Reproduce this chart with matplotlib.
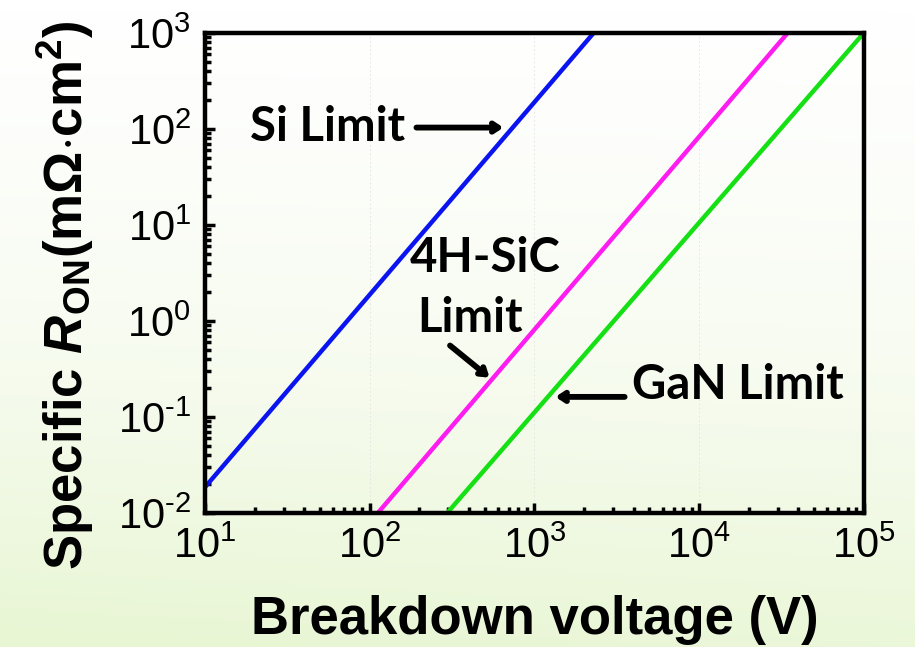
import numpy as np
import matplotlib
matplotlib.use("Agg")
import matplotlib.pyplot as plt
from matplotlib.ticker import FuncFormatter, LogLocator, NullFormatter
from matplotlib.colors import LinearSegmentedColormap

# ---- data ----
si_v = [10, 2290]
si_r = [0.0186, 1000]
sic_v = [112, 34500]
sic_r = [0.01, 1000]
gan_v = [295, 100000]
gan_r = [0.01, 1000]

x_ticks = [1e1, 1e2, 1e3, 1e4, 1e5]
y_ticks = [1e-2, 1e-1, 1e0, 1e1, 1e2, 1e3]

plt.rcParams['mathtext.fontset'] = 'custom'
plt.rcParams['mathtext.rm'] = 'Liberation Sans'
plt.rcParams['mathtext.it'] = 'Liberation Sans:italic'
plt.rcParams['mathtext.bf'] = 'Liberation Sans:bold'
plt.rcParams['mathtext.bfit'] = 'Liberation Sans:italic:bold'
plt.rcParams['font.family'] = ['Liberation Sans', 'DejaVu Sans']

fig = plt.figure(figsize=(9.15, 6.47), dpi=100)

# background gradient (white at top, light green at bottom)
bg = fig.add_axes([0, 0, 1, 1], zorder=-10)
yy, xx = np.mgrid[0:1:200j, 0:1:200j]   # yy = 0 at top row
t = np.clip(yy ** 1.3 * 0.9 + 0.1 * yy * (1 - xx), 0, 1)
cmap = LinearSegmentedColormap.from_list('g', ['#ffffff', '#f6fbee', '#e8f6d3'])
bg.imshow(t, cmap=cmap, aspect='auto', extent=[0, 1, 1, 0], origin='upper')
bg.set_xlim(0, 1)
bg.set_ylim(1, 0)
bg.axis('off')

ax = fig.add_axes([0.224, 0.207, 0.720, 0.742])
ax.set_facecolor('none')
ax.set_xscale('log')
ax.set_yscale('log')
ax.set_xlim(10, 1e5)
ax.set_ylim(1e-2, 1e3)

ax.plot(si_v, si_r, color='#0a14f0', lw=3.2, solid_capstyle='butt', clip_on=False)
ax.plot(sic_v, sic_r, color='#ff1cf0', lw=3.2, solid_capstyle='butt', clip_on=False)
ax.plot(gan_v, gan_r, color='#14e014', lw=3.2, solid_capstyle='butt', clip_on=False)

for xv in [1e2, 1e3, 1e4]:
    ax.axvline(xv, color='#e2e2e2', lw=0.6, ls=(0, (2, 3)), zorder=0)


def fmt_func(v, p):
    e = int(round(np.log10(v)))
    s = str(e).replace('-', '\u2010')
    return r'$\mathregular{10^{%s}}$' % s


fmt = FuncFormatter(fmt_func)
ax.set_xticks(x_ticks)
ax.set_yticks(y_ticks)
ax.xaxis.set_major_formatter(fmt)
ax.yaxis.set_major_formatter(fmt)
ax.xaxis.set_minor_locator(LogLocator(base=10, subs=np.arange(2, 10)))
ax.yaxis.set_minor_locator(LogLocator(base=10, subs=np.arange(2, 10)))
ax.xaxis.set_minor_formatter(NullFormatter())
ax.yaxis.set_minor_formatter(NullFormatter())
ax.tick_params(which='major', direction='in', length=7, width=2.5, labelsize=30, pad=10,
               colors='black')
ax.tick_params(which='minor', direction='in', length=4, width=2.5)
ax.tick_params(axis='y', which='both', right=False)

for s in ax.spines.values():
    s.set_linewidth(3.2)

ax.set_xlabel('Breakdown voltage (V)', fontsize=38, fontweight='bold', labelpad=20)
ax.set_ylabel(r'Specific $\mathbfit{R}_{\mathbf{ON}}$(m$\mathbf{\Omega}$$\mathbf{\cdot}$cm$^{\mathbf{2}}$)',
              fontsize=38, fontweight='bold', labelpad=8)
ax.yaxis.set_label_coords(-0.165, 0.454)

afont = dict(fontsize=34, fontweight='bold', family=['Lato', 'DejaVu Sans'], color='black')
ax.text(0.068, 0.804, 'Si Limit', transform=ax.transAxes, ha='left', va='center', **afont)
ax.text(0.425, 0.531, '4H-SiC', transform=ax.transAxes, ha='center', va='center', **afont)
ax.text(0.402, 0.406, 'Limit', transform=ax.transAxes, ha='center', va='center', **afont)
ax.text(0.648, 0.267, 'GaN Limit', transform=ax.transAxes, ha='left', va='center', **afont)

arrow = dict(arrowstyle='->,head_length=0.45,head_width=0.3', lw=4.2, color='black',
             shrinkA=0, shrinkB=0, joinstyle='round', capstyle='round')
ax.annotate('', xy=(0.453, 0.803), xytext=(0.321, 0.803), xycoords='axes fraction',
            arrowprops=arrow)
ax.annotate('', xy=(0.432, 0.282), xytext=(0.372, 0.349), xycoords='axes fraction',
            arrowprops=arrow)
ax.annotate('', xy=(0.532, 0.242), xytext=(0.637, 0.242), xycoords='axes fraction',
            arrowprops=arrow)

fig.savefig('out.png', dpi=100)
